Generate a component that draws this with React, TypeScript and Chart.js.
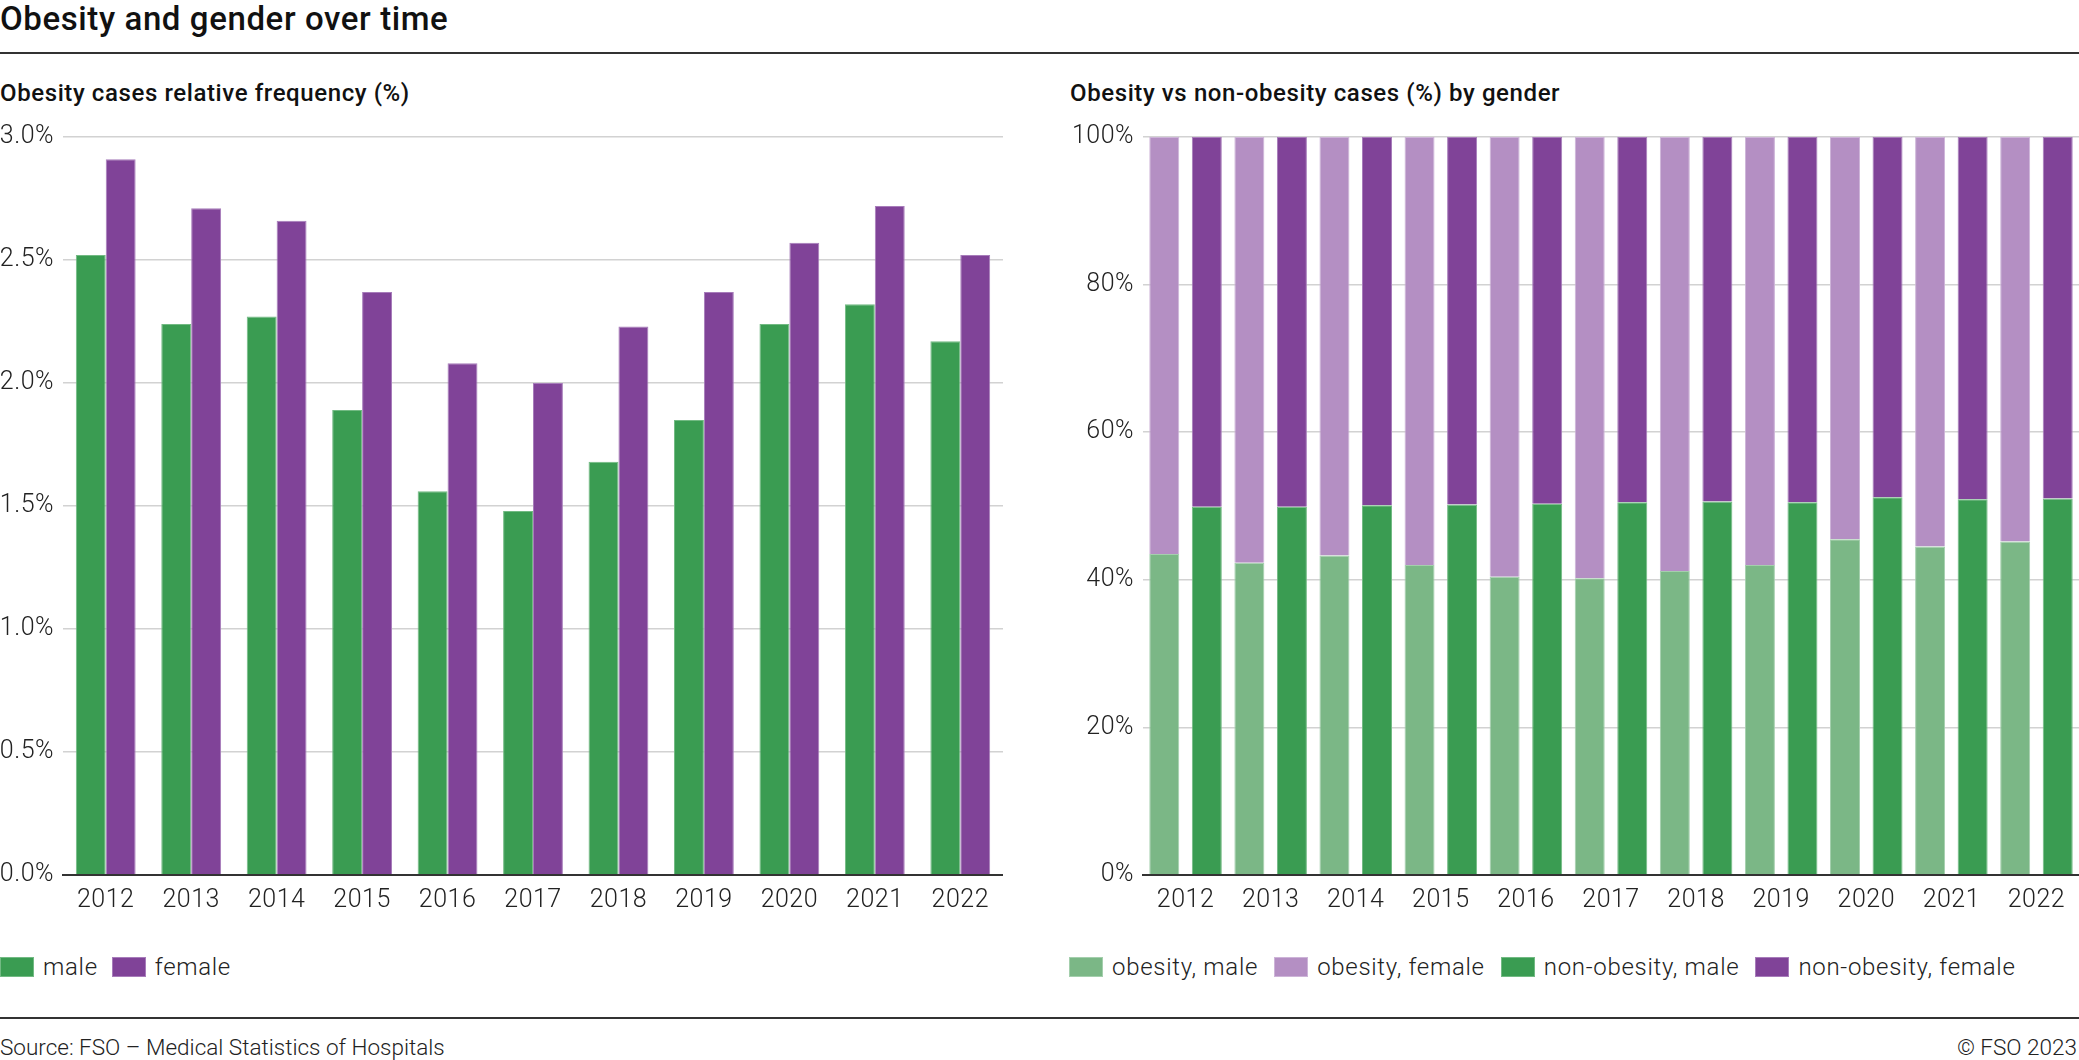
import React, { useEffect, useRef } from "react";
import { Chart, registerables } from "chart.js";

Chart.register(...registerables);

// ---------- data ----------
const years = ["2012", "2013", "2014", "2015", "2016", "2017", "2018", "2019", "2020", "2021", "2022"];

// Left panel: obesity cases relative frequency (%)
const maleRate = [2.52, 2.24, 2.27, 1.89, 1.56, 1.48, 1.68, 1.85, 2.24, 2.32, 2.17];
const femaleRate = [2.91, 2.71, 2.66, 2.37, 2.08, 2.0, 2.23, 2.37, 2.57, 2.72, 2.52];

// Right panel: share by gender (%)
const obesityMale = [43.5, 42.3, 43.3, 42.0, 40.4, 40.2, 41.2, 42.0, 45.5, 44.5, 45.2];
const obesityFemale = [56.5, 57.7, 56.7, 58.0, 59.6, 59.8, 58.8, 58.0, 54.5, 55.5, 54.8];
const nonObesityMale = [49.9, 49.9, 50.1, 50.2, 50.3, 50.5, 50.6, 50.5, 51.2, 50.9, 51.0];
const nonObesityFemale = [50.1, 50.1, 49.9, 49.8, 49.7, 49.5, 49.4, 49.5, 48.8, 49.1, 49.0];

// Tick labels
const leftTickValues = [0, 0.5, 1.0, 1.5, 2.0, 2.5, 3.0];
const leftTickLabels = ["0.0%", "0.5%", "1.0%", "1.5%", "2.0%", "2.5%", "3.0%"];
const rightTickValues = [0, 20, 40, 60, 80, 100];
const rightTickLabels = ["0%", "20%", "40%", "60%", "80%", "100%"];

// Legend labels
const leftLegend = ["male", "female"];
const rightLegend = ["obesity, male", "obesity, female", "non-obesity, male", "non-obesity, female"];

// ---------- styles ----------
const GREEN = "#3a9c52";
const PURPLE = "#804398";
const LIGHT_GREEN = "#7bb786";
const LIGHT_PURPLE = "#b48fc3";
const GREEN_EDGE = "#72ba83";
const PURPLE_EDGE = "#a77cba";
const LIGHT_GREEN_EDGE = "#a4cfad";
const LIGHT_PURPLE_EDGE = "#cdb4d8";
const TEXT = "#222222";
const GRID = "#d2d2d2";
const AXIS = "#333333";
const FONT = "Roboto";

const tickFont = { family: FONT, size: 25, weight: 300 as any };

const letterSpacingPlugin = {
  id: "letterSpacing",
  beforeUpdate(chart: any) {
    chart.ctx.letterSpacing = "0.5px";
  },
  beforeDraw(chart: any) {
    chart.ctx.letterSpacing = "0.5px";
  },
};

function labelFor(values: number[], labels: string[]) {
  return (v: any) => {
    const n = Number(v);
    const i = values.findIndex((x) => Math.abs(x - n) < 1e-6);
    return i >= 0 ? labels[i] : "";
  };
}

function baseOptions(
  yMax: number,
  step: number,
  values: number[],
  labels: string[],
  stacked: boolean,
  yAxisWidth: number
): any {
  return {
    responsive: false,
    animation: false,
    devicePixelRatio: 1,
    layout: { padding: { top: 27, right: 0, bottom: 0, left: 0 } },
    plugins: { legend: { display: false }, tooltip: { enabled: false }, title: { display: false } },
    scales: {
      x: {
        stacked,
        grid: { display: false, drawTicks: false },
        border: { display: true, color: AXIS, width: 2, z: 1 },
        ticks: { font: tickFont, color: TEXT, padding: 10.5, maxRotation: 0, autoSkip: false },
        afterFit: (s: any) => {
          s.height = 50;
        },
      },
      y: {
        stacked,
        min: 0,
        max: yMax,
        grid: { color: GRID, lineWidth: 1.5, drawTicks: false },
        border: { display: false },
        ticks: {
          stepSize: step,
          font: tickFont,
          color: TEXT,
          padding: 9,
          callback: labelFor(values, labels),
        },
        afterFit: (s: any) => {
          s.width = yAxisWidth;
        },
      },
    },
  };
}

function leftConfig(): any {
  return {
    type: "bar",
    data: {
      labels: years,
      datasets: [
        {
          label: leftLegend[0],
          data: maleRate,
          backgroundColor: GREEN,
          borderColor: GREEN_EDGE,
          borderWidth: 1,
          categoryPercentage: 0.7,
          barPercentage: 1.0,
        },
        {
          label: leftLegend[1],
          data: femaleRate,
          backgroundColor: PURPLE,
          borderColor: PURPLE_EDGE,
          borderWidth: 1,
          categoryPercentage: 0.7,
          barPercentage: 1.0,
        },
      ],
    },
    options: baseOptions(3, 0.5, leftTickValues, leftTickLabels, false, 63),
    plugins: [letterSpacingPlugin],
  };
}

function rightConfig(): any {
  const common = { categoryPercentage: 1.0, barPercentage: 0.705, borderWidth: 1 };
  return {
    type: "bar",
    data: {
      labels: years,
      datasets: [
        { ...common, label: rightLegend[0], data: obesityMale, backgroundColor: LIGHT_GREEN, borderColor: LIGHT_GREEN_EDGE, stack: "obesity" },
        { ...common, label: rightLegend[1], data: obesityFemale, backgroundColor: LIGHT_PURPLE, borderColor: LIGHT_PURPLE_EDGE, stack: "obesity" },
        { ...common, label: rightLegend[2], data: nonObesityMale, backgroundColor: GREEN, borderColor: GREEN_EDGE, stack: "non-obesity" },
        { ...common, label: rightLegend[3], data: nonObesityFemale, backgroundColor: PURPLE, borderColor: PURPLE_EDGE, stack: "non-obesity" },
      ],
    },
    options: baseOptions(100, 20, rightTickValues, rightTickLabels, true, 83),
    plugins: [letterSpacingPlugin],
  };
}

function ChartCanvas(props: { make: () => any; left: number; top: number; width: number; height: number }) {
  const ref = useRef<HTMLCanvasElement | null>(null);
  useEffect(() => {
    if (!ref.current) return;
    const chart = new Chart(ref.current, props.make());
    return () => chart.destroy();
  }, []);
  return (
    <canvas
      ref={ref}
      width={props.width}
      height={props.height}
      style={{ position: "absolute", left: props.left, top: props.top, width: props.width, height: props.height }}
    />
  );
}

function Legend(props: { left: number; top: number; items: string[]; colors: string[]; edges: string[]; gap: number }) {
  return (
    <div style={{ position: "absolute", left: props.left, top: props.top, display: "flex", alignItems: "center", height: 21 }}>
      {props.items.map((t, i) => (
        <div key={t} style={{ display: "flex", alignItems: "center", marginRight: props.gap }}>
          <div
            style={{
              width: 34,
              height: 20,
              background: props.colors[i],
              boxSizing: "border-box",
              border: `1px solid ${props.edges[i]}`,
              marginRight: 9,
            }}
          />
          <span style={{ fontSize: 24, fontWeight: 300, lineHeight: "24px", letterSpacing: "0.7px", color: TEXT, whiteSpace: "nowrap" }}>{t}</span>
        </div>
      ))}
    </div>
  );
}

export default function App() {
  const rule = (top: number) => (
    <div style={{ position: "absolute", left: 0, top, width: 2079, height: 2, background: AXIS }} />
  );
  return (
    <div
      style={{
        position: "fixed",
        left: 0,
        top: 0,
        width: 2079,
        height: 1060,
        background: "#ffffff",
        overflow: "hidden",
        fontFamily: FONT,
        color: TEXT,
      }}
    >
      <div style={{ position: "absolute", left: 0, top: 2, fontSize: 33, fontWeight: 500, lineHeight: "33px", letterSpacing: "0.6px", color: "#111", whiteSpace: "nowrap" }}>
        Obesity and gender over time
      </div>
      {rule(52)}
      <div style={{ position: "absolute", left: 0, top: 81, fontSize: 24, fontWeight: 500, lineHeight: "24px", letterSpacing: "0.6px", color: "#111", whiteSpace: "nowrap" }}>
        Obesity cases relative frequency (%)
      </div>
      <div style={{ position: "absolute", left: 1070, top: 81, fontSize: 24, fontWeight: 500, lineHeight: "24px", letterSpacing: "0.6px", color: "#111", whiteSpace: "nowrap" }}>
        Obesity vs non-obesity cases (%) by gender
      </div>

      <ChartCanvas make={leftConfig} left={0} top={110} width={1003} height={815} />
      <ChartCanvas make={rightConfig} left={1060} top={110} width={1019} height={815} />

      <Legend left={0} top={956} gap={14} items={leftLegend} colors={[GREEN, PURPLE]} edges={[GREEN_EDGE, PURPLE_EDGE]} />
      <Legend
        left={1069}
        top={956}
        gap={16}
        items={rightLegend}
        colors={[LIGHT_GREEN, LIGHT_PURPLE, GREEN, PURPLE]}
        edges={[LIGHT_GREEN_EDGE, LIGHT_PURPLE_EDGE, GREEN_EDGE, PURPLE_EDGE]}
      />

      {rule(1017)}
      <div style={{ position: "absolute", left: 0, top: 1036, fontSize: 22.5, fontWeight: 300, lineHeight: "22px", whiteSpace: "nowrap" }}>
        Source: FSO – Medical Statistics of Hospitals
      </div>
      <div style={{ position: "absolute", right: 2, top: 1036, fontSize: 22.5, fontWeight: 300, lineHeight: "22px", whiteSpace: "nowrap" }}>
        © FSO 2023
      </div>
    </div>
  );
}
